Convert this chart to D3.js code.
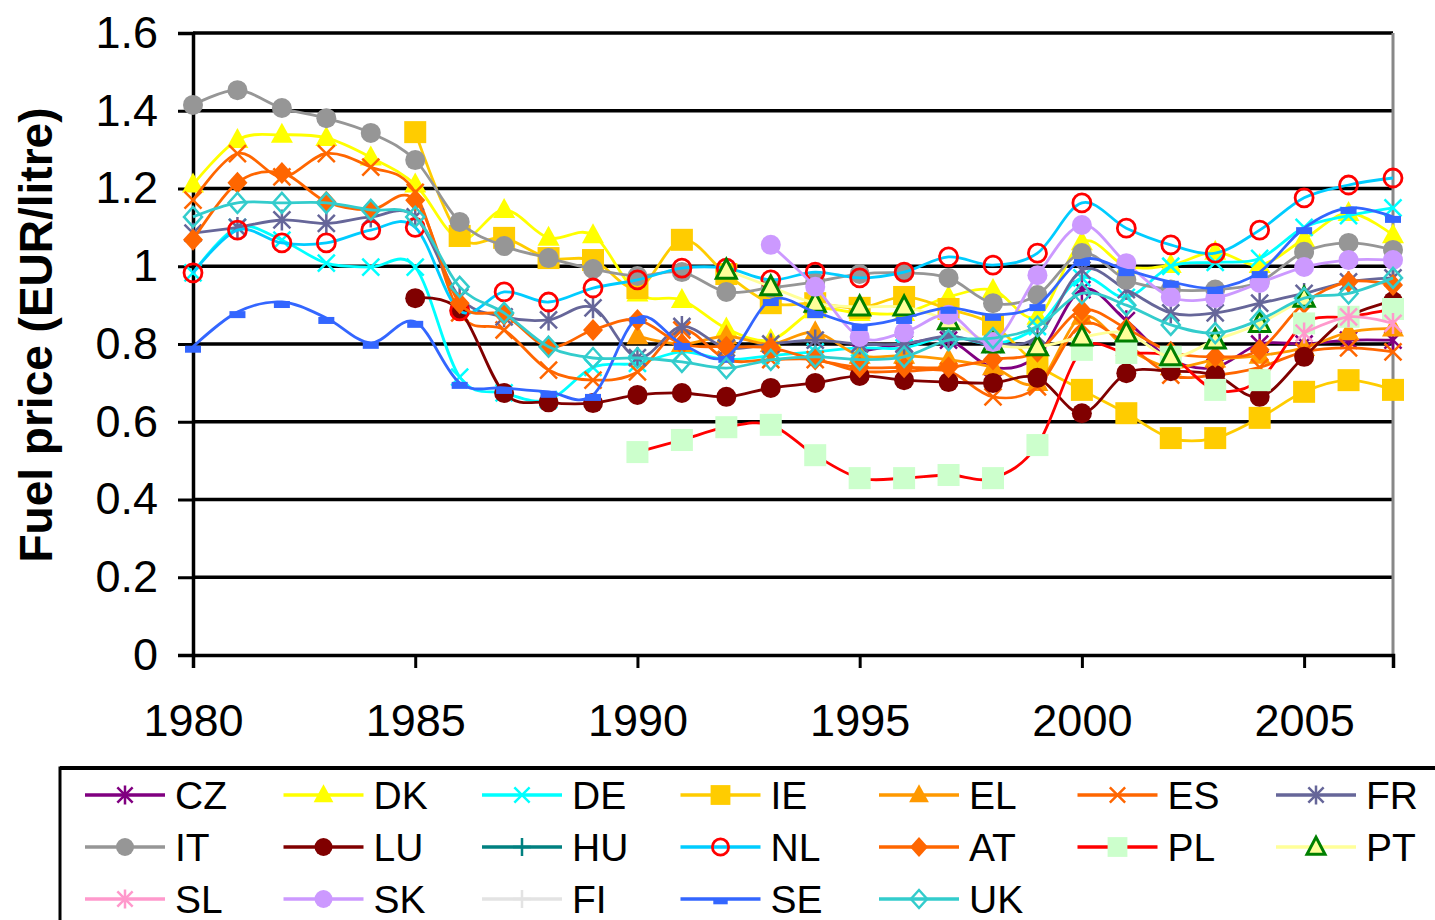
<!DOCTYPE html>
<html><head><meta charset="utf-8">
<script src="https://cdn.jsdelivr.net/npm/d3@7/dist/d3.min.js"></script>
<style>
body{margin:0;background:#fff;}
svg{display:block;font-family:"Liberation Sans",Arial,sans-serif;}
</style>
</head><body>
<svg id="c" width="1435" height="920"></svg>
<script>
// ---------- DATA ----------
const years = d3.range(1980, 2008);
const yTicks = [0, 0.2, 0.4, 0.6, 0.8, 1, 1.2, 1.4, 1.6];
const xTicks = [1980, 1985, 1990, 1995, 2000, 2005];
const countries = ["CZ","DK","DE","IE","EL","ES","FR","IT","LU","HU","NL","AT","PL","PT","SL","SK","FI","SE","UK"];
const N = null;
const CZ = [N,N,N,N,N,N,N,N,N,N,N,N,N,N,N,0.78,0.80,0.81,0.74,0.77,0.94,0.86,0.76,0.74,0.80,0.80,0.81,0.81];
const DK = [1.21,1.325,1.338,1.33,1.28,1.21,1.07,1.145,1.073,1.08,0.93,0.913,0.84,0.81,0.887,0.88,0.88,0.921,0.939,0.87,1.062,1.0,1.003,1.037,1.003,1.07,1.137,1.08];
const DE = [0.983,1.10,1.067,1.008,0.998,0.998,0.715,0.674,0.656,0.74,0.75,0.78,0.76,0.77,0.78,0.79,0.79,0.82,0.80,0.845,0.97,0.92,1.0,1.01,1.02,1.10,1.13,1.15];
const IE = [N,N,N,N,N,1.345,1.078,1.073,1.021,1.016,0.944,1.068,0.98,0.905,0.905,0.893,0.921,0.89,0.85,0.746,0.682,0.622,0.558,0.558,0.61,0.677,0.707,0.682];
const EL = [N,N,N,N,N,N,N,N,N,N,0.82,0.80,0.82,0.80,0.83,0.77,0.77,0.76,0.74,0.70,0.87,0.79,0.74,0.76,0.77,0.79,0.83,0.84];
const ES = [1.17,1.29,1.23,1.29,1.255,1.19,0.88,0.836,0.733,0.707,0.728,0.836,0.76,0.76,0.76,0.73,0.73,0.73,0.664,0.69,0.85,0.80,0.72,0.72,0.74,0.78,0.79,0.78];
const FR = [1.085,1.10,1.119,1.11,1.127,1.127,0.92,0.87,0.862,0.893,0.765,0.845,0.79,0.80,0.81,0.80,0.80,0.82,0.80,0.82,0.99,0.94,0.88,0.88,0.905,0.93,0.96,0.97];
const IT = [1.415,1.453,1.407,1.381,1.343,1.273,1.114,1.052,1.021,0.993,0.975,0.985,0.934,0.945,0.96,0.98,0.983,0.97,0.905,0.926,1.034,0.965,0.94,0.94,0.96,1.037,1.06,1.042];
const LU = [N,N,N,N,N,0.918,0.887,0.674,0.65,0.648,0.669,0.674,0.664,0.687,0.70,0.718,0.707,0.702,0.70,0.713,0.622,0.725,0.73,0.72,0.664,0.767,0.87,0.91];
const HU = [N,N,N,N,N,N,N,N,N,N,N,N,N,N,N,N,N,N,N,N,N,N,N,N,N,N,N,N];
const NL = [0.983,1.093,1.06,1.06,1.093,1.10,0.885,0.934,0.908,0.944,0.965,0.995,0.995,0.965,0.985,0.97,0.985,1.024,1.003,1.034,1.163,1.098,1.055,1.034,1.093,1.176,1.209,1.227];
const AT = [1.068,1.215,1.24,1.166,1.145,1.17,0.905,0.875,0.793,0.836,0.862,0.80,0.793,0.79,0.76,0.74,0.74,0.74,0.76,0.78,0.887,0.84,0.78,0.767,0.785,0.905,0.96,0.952];
const PL = [N,N,N,N,N,N,N,N,N,N,0.522,0.553,0.586,0.592,0.514,0.455,0.455,0.463,0.455,0.54,0.785,0.777,0.767,0.682,0.707,0.853,0.87,0.89];
const PT = [N,N,N,N,N,N,N,N,N,N,N,N,0.99,0.947,0.905,0.895,0.895,0.86,0.80,0.793,0.818,0.828,0.767,0.81,0.853,0.918,N,N];
const SL = [N,N,N,N,N,N,N,N,N,N,N,N,N,N,N,N,N,N,N,N,N,N,N,N,N,0.828,0.87,0.853];
const SK = [N,N,N,N,N,N,N,N,N,N,N,N,N,1.055,0.947,0.818,0.83,0.875,0.805,0.977,1.106,1.008,0.921,0.918,0.957,0.998,1.016,1.016];
const FI = [N,N,N,N,N,N,N,N,N,N,N,N,N,N,N,N,N,N,N,N,N,N,N,N,N,N,N,N];
const SE = [0.793,0.882,0.908,0.867,0.803,0.857,0.70,0.687,0.677,0.669,0.867,0.80,0.767,0.913,0.882,0.849,0.867,0.893,0.875,0.90,1.016,0.99,0.96,0.944,0.985,1.098,1.15,1.127];
const UK = [1.127,1.163,1.163,1.163,1.145,1.127,0.947,0.88,0.793,0.764,0.764,0.754,0.738,0.759,0.767,0.76,0.767,0.81,0.815,0.845,0.93,0.90,0.849,0.828,0.862,0.918,0.93,0.97];
const seriesValues = [CZ,DK,DE,IE,EL,ES,FR,IT,LU,HU,NL,AT,PL,PT,SL,SK,FI,SE,UK];

// ---------- STYLES ----------
const styles = {
  CZ:{line:"#800080", m:"asterisk", c:"#800080"},
  DK:{line:"#FFFF00", m:"triangle", c:"#FFFF00"},
  DE:{line:"#00FFFF", m:"x", c:"#00FFFF"},
  IE:{line:"#FFCC00", m:"square", c:"#FFCC00"},
  EL:{line:"#FF9900", m:"triangle", c:"#FF9900"},
  ES:{line:"#FF6600", m:"x", c:"#FF6600"},
  FR:{line:"#666699", m:"asterisk", c:"#666699"},
  IT:{line:"#969696", m:"circle", c:"#969696"},
  LU:{line:"#800000", m:"circle", c:"#800000"},
  HU:{line:"#008080", m:"plus", c:"#008080"},
  NL:{line:"#00CCFF", m:"ocircle", c:"#FF0000"},
  AT:{line:"#FF6600", m:"diamond", c:"#FF6600"},
  PL:{line:"#FF0000", m:"square", c:"#CCFFCC"},
  PT:{line:"#FFFF99", m:"otriangle", c:"#FFFF99", s:"#008000"},
  SL:{line:"#FF99CC", m:"asterisk", c:"#FF99CC"},
  SK:{line:"#CC99FF", m:"circle", c:"#CC99FF"},
  FI:{line:"#E3E3E3", m:"plus", c:"#E3E3E3"},
  SE:{line:"#3366FF", m:"dash", c:"#3366FF"},
  UK:{line:"#33CCCC", m:"odiamond", c:"#33CCCC"}
};

// ---------- CHART ----------
const svg = d3.select("#c");
const x = d3.scaleLinear().domain([1980, 2007]).range([193, 1393]);
const y = d3.scaleLinear().domain([0, 1.6]).range([655, 33]);

// gridlines
svg.append("g").selectAll("line").data(yTicks.filter(t => t > 0)).join("line")
  .attr("x1", 193).attr("x2", 1393).attr("y1", d => y(d)).attr("y2", d => y(d))
  .attr("stroke", "#000").attr("stroke-width", 3.5);
// plot border right
svg.append("line").attr("x1", 1393).attr("x2", 1393).attr("y1", y(1.6)).attr("y2", y(0))
  .attr("stroke", "#888").attr("stroke-width", 3);

// y axis
const yAxis = d3.axisLeft(y).tickValues(yTicks).tickSize(15).tickPadding(20)
  .tickFormat(d => d3.format("")(+d.toFixed(1)));
const gy = svg.append("g").attr("transform", "translate(193,0)").call(yAxis);
gy.select(".domain").attr("stroke", "#000").attr("stroke-width", 3.5);
gy.selectAll(".tick line").attr("stroke", "#000").attr("stroke-width", 3);
gy.selectAll(".tick text").attr("font-size", 45).attr("fill", "#000")
  .attr("font-family", "Liberation Sans, Arial, sans-serif");

// x axis
const xAxis = d3.axisBottom(x).tickValues(xTicks).tickSize(13).tickPadding(36).tickFormat(d3.format("d"));
const gx = svg.append("g").attr("transform", "translate(0,655)").call(xAxis);
gx.select(".domain").attr("stroke", "#000").attr("stroke-width", 3.5);
gx.selectAll(".tick line").attr("stroke", "#000").attr("stroke-width", 3);
gx.selectAll(".tick text").attr("font-size", 45).attr("fill", "#000")
  .attr("font-family", "Liberation Sans, Arial, sans-serif");

// y title
svg.append("text").attr("transform", "translate(52,335) rotate(-90)")
  .attr("text-anchor", "middle").attr("font-weight", "bold").attr("font-size", 46)
  .text("Fuel price (EUR/litre)");

// markers
function drawMarker(g, type, st, cx, cy, k) {
  k = k || 1;
  const s = 10 * k;
  const sw = 2.5;
  if (type === "circle") {
    g.append("circle").attr("cx", cx).attr("cy", cy).attr("r", s).attr("fill", st.c);
  } else if (type === "ocircle") {
    g.append("circle").attr("cx", cx).attr("cy", cy).attr("r", s * 0.9).attr("fill", "none")
      .attr("stroke", st.c).attr("stroke-width", 2.8);
  } else if (type === "square") {
    g.append("rect").attr("x", cx - s * 1.1).attr("y", cy - s * 1.1).attr("width", s * 2.2).attr("height", s * 2.2).attr("fill", st.c);
  } else if (type === "triangle") {
    g.append("path").attr("d", `M${cx},${cy - s * 1.2}L${cx + s * 1.1},${cy + s * 0.8}L${cx - s * 1.1},${cy + s * 0.8}Z`).attr("fill", st.c);
  } else if (type === "otriangle") {
    g.append("path").attr("d", `M${cx},${cy - s * 1.1}L${cx + s},${cy + s * 0.8}L${cx - s},${cy + s * 0.8}Z`)
      .attr("fill", st.c).attr("stroke", st.s).attr("stroke-width", 3);
  } else if (type === "diamond") {
    g.append("path").attr("d", `M${cx},${cy - s * 1.1}L${cx + s},${cy}L${cx},${cy + s * 1.1}L${cx - s},${cy}Z`).attr("fill", st.c);
  } else if (type === "odiamond") {
    g.append("path").attr("d", `M${cx},${cy - s}L${cx + s * 0.9},${cy}L${cx},${cy + s}L${cx - s * 0.9},${cy}Z`)
      .attr("fill", "none").attr("stroke", st.c).attr("stroke-width", 2.5);
  } else if (type === "x" || type === "asterisk") {
    const d = s * 0.85;
    let p = `M${cx - d},${cy - d}L${cx + d},${cy + d}M${cx - d},${cy + d}L${cx + d},${cy - d}`;
    if (type === "asterisk") p += `M${cx},${cy - s * 1.05}L${cx},${cy + s * 1.05}`;
    g.append("path").attr("d", p).attr("stroke", st.c).attr("stroke-width", sw).attr("fill", "none");
  } else if (type === "plus") {
    g.append("path").attr("d", `M${cx - s},${cy}L${cx + s},${cy}M${cx},${cy - s}L${cx},${cy + s}`)
      .attr("stroke", st.c).attr("stroke-width", sw).attr("fill", "none");
  } else if (type === "dash") {
    g.append("rect").attr("x", cx - 8 * k).attr("y", cy - 1).attr("width", 16 * k).attr("height", 7 * k).attr("fill", st.c);
  }
}

const line = d3.line()
  .defined(d => d.v !== null)
  .x(d => x(d.year)).y(d => y(d.v))
  .curve(d3.curveCardinal.tension(0));

const plot = svg.append("g");
countries.forEach((name, i) => {
  const st = styles[name];
  const pts = years.map((yr, j) => ({ year: yr, v: seriesValues[i][j] }));
  const g = plot.append("g");
  g.append("path").datum(pts).attr("d", line).attr("fill", "none")
    .attr("stroke", st.line).attr("stroke-width", 2.8);
  pts.filter(d => d.v !== null).forEach(d => drawMarker(g, st.m, st, x(d.year), y(d.v), 1));
});

// legend
const lg = svg.append("g");
lg.append("rect").attr("x", 60).attr("y", 768).attr("width", 1400).attr("height", 200)
  .attr("fill", "#fff").attr("stroke", "#000").attr("stroke-width", 3);
lg.append("line").attr("x1", 60).attr("x2", 1435).attr("y1", 768).attr("y2", 768).attr("stroke", "#000").attr("stroke-width", 4);
countries.forEach((name, i) => {
  const col = i % 7, row = Math.floor(i / 7);
  const lx = 85 + col * 198.5, ly = 795 + row * 52;
  const st = styles[name];
  const g = lg.append("g");
  g.append("line").attr("x1", lx).attr("x2", lx + 80).attr("y1", ly).attr("y2", ly)
    .attr("stroke", st.line).attr("stroke-width", 3.5);
  drawMarker(g, st.m, st, lx + 40, ly, 0.9);
  g.append("text").attr("x", lx + 90).attr("y", ly).attr("dy", "0.36em")
    .attr("font-size", 39).attr("fill", "#000").text(name);
});
</script>
</body></html>
